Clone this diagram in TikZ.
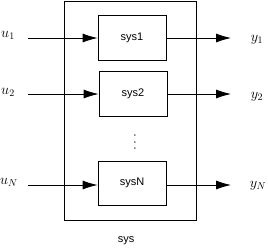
\documentclass[tikz,border=0pt]{standalone}
\usepackage{fontspec}
\setsansfont{Liberation Sans}
\usetikzlibrary{arrows.meta, positioning}
\tikzset{
    block/.style = {rectangle, draw, line width=0.8pt, minimum width=68pt, minimum height=45pt, font=\sffamily\fontsize{11}{13}\selectfont},
    outer/.style = {rectangle, draw, line width=0.8pt, minimum width=132pt, minimum height=219pt},
    arrow/.style = {line width=0.8pt, -{Latex[length=15pt, width=9pt]}},
    lbl/.style = {font=\fontsize{14}{16}\selectfont, inner sep=0pt}
}
\begin{document}
\begin{tikzpicture}[x=1pt, y=-1pt]
        \useasboundingbox (0,0) rectangle (268,250);
        % Nodes
        \node [outer] (sys) at (130,110.5) {};
        \node [block] (sys1) at (132,37.5) {sys1};
        \node [block] (sys2) at (133,93.5) {sys2};
        \node [block, minimum height=44pt] (sysN) at (132,183) {sysN};
        \node [inner sep=0pt] (dots) at (135,137) {\scalebox{1}[1.7]{$\vdots$}};
        \node [font=\sffamily\fontsize{11}{13}\selectfont] (syslbl) at (126,241) {sys};

        % Signals
        \node [lbl] (u1) at (8,35) {$u_1$};
        \node [lbl] (u2) at (8,92) {$u_2$};
        \node [lbl] (uN) at (9,182) {$u_N$};
        \node [lbl] (y1) at (257,40) {$y_1$};
        \node [lbl] (y2) at (257,97) {$y_2$};
        \node [lbl] (yN) at (258,186) {$y_N$};
        \coordinate (in1) at (28,38);
        \coordinate (in2) at (28,94);
        \coordinate (inN) at (28,185);
        \coordinate (out1) at (231,38);
        \coordinate (out2) at (231,94);
        \coordinate (outN) at (231,185);

        % Edges
        \draw [arrow] (in1) -- (sys1.west |- in1);
        \draw [arrow] (in2) -- (sys2.west |- in2);
        \draw [arrow] (inN) -- (sysN.west |- inN);
        \draw [arrow] (sys1.east |- out1) -- (out1);
        \draw [arrow] (sys2.east |- out2) -- (out2);
        \draw [arrow] (sysN.east |- outN) -- (outN);
\end{tikzpicture}
\end{document}
